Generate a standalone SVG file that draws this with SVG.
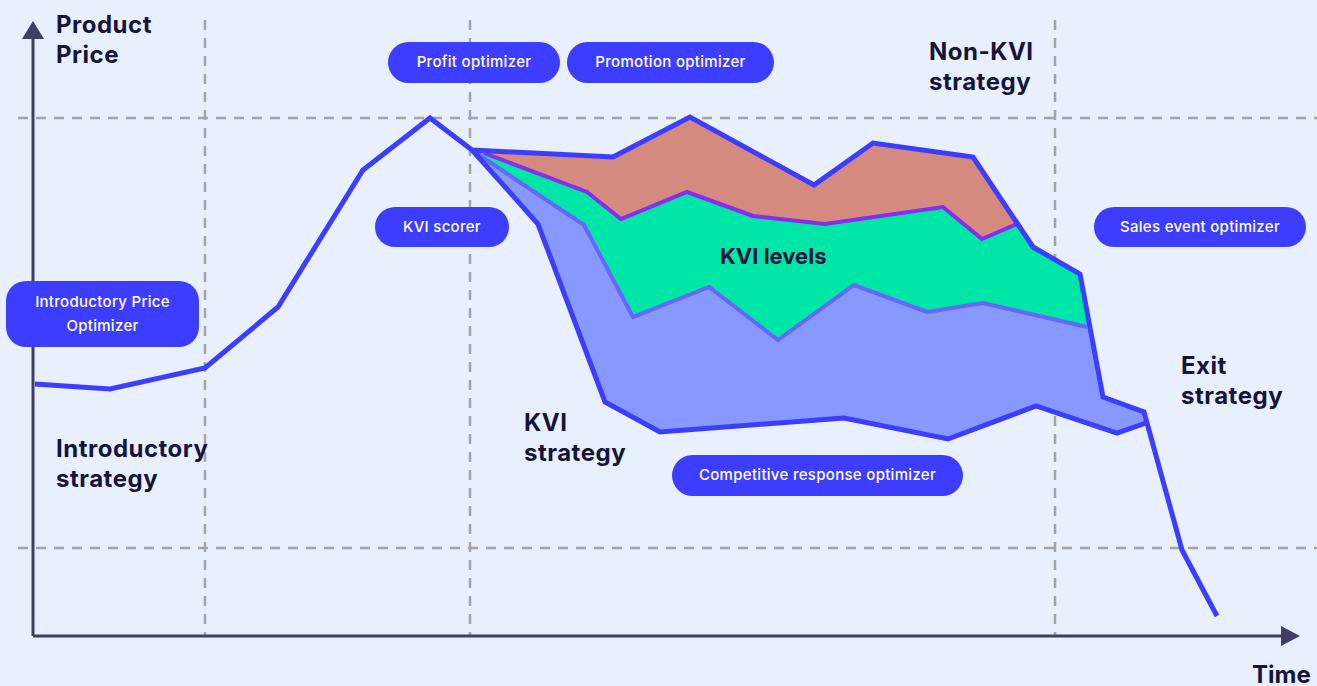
<svg xmlns="http://www.w3.org/2000/svg" width="1317" height="686" viewBox="0 0 1317 686">
<style>
.bg{fill:#E8EFFD}
.grid{stroke:#A3A3A8;stroke-width:2.5;stroke-dasharray:10 8;fill:none}
.axis{stroke:#3F3F66;stroke-width:3;fill:none}
.ah{fill:#3F3F66}
.main{stroke:#3D3DFF;stroke-width:5;fill:none;stroke-linejoin:miter;stroke-linecap:butt}
.purple{stroke:#8A2BF0;stroke-width:4;fill:none}
.lblue{stroke:#6666FF;stroke-width:4;fill:none}
.lbl{font-family:Inter,"Noto Sans",sans-serif;font-weight:700;fill:#14143C;font-size:24px;letter-spacing:0.5px}
.pill{fill:#3D3DFF}
.pt{font-family:Inter,"Noto Sans",sans-serif;font-weight:500;fill:#FFFFFF;font-size:15px;letter-spacing:0.3px;text-anchor:middle}
</style>
<rect class="bg" x="0" y="0" width="1317" height="686"/>
<g id="grid">
<line class="grid" x1="18" y1="118" x2="1317" y2="118"/>
<line class="grid" x1="18" y1="548" x2="1317" y2="548"/>
<line class="grid" x1="205" y1="20" x2="205" y2="636"/>
<line class="grid" x1="470" y1="20" x2="470" y2="636"/>
<line class="grid" x1="1055" y1="20" x2="1055" y2="636"/>
</g>
<g id="areas">
<polygon fill="#8799FE" points="472,150 613,157 690,117 814,185 873,143 973,157 1017,223 1033,247 1080,274 1103,397 1144,412 1146,423 1117,433 1036,406 948,439 844,418 660,432 605,402 538,224"/>
<polygon fill="#00E6A6" points="476,152 587,192 621,219 687,192 753,216 825,224 943,207 982,239 1017,224 1033,247 1080,274 1087,327 983,303 927,312 854,285 778,340 709,287 633,317 584,225"/>
<polygon fill="#D58A80" points="472,150 613,157 690,117 814,185 873,143 973,157 1017,223 982,239 943,207 825,224 753,216 687,192 621,219 587,192 484,153"/>
</g>
<g id="connectors">
<polyline class="lblue" points="476,153 584,225 633,317 709,287 778,340 854,285 927,312 983,303 1087,327"/>
<polyline class="purple" points="484,153 587,192 621,219 687,192 753,216 825,224 943,207 982,239 1017,224"/>
<polyline class="main" points="35,384 110,389 205,368 278,307 363,170 430,118 472,150 613,157 690,117 814,185 873,143 973,157 1017,223 1033,247 1080,274 1103,397 1144,412 1182,550 1217,616"/>
<polyline class="main" points="472,150 538,224 605,402 660,432 844,418 948,439 1036,406 1117,433 1146,423"/>
<line class="axis" x1="33" y1="636" x2="33" y2="38"/>
<line class="axis" x1="33" y1="636" x2="1283" y2="636"/>
<polygon class="ah" points="33,21 22,39 44,39"/>
<polygon class="ah" points="1300,636 1281,626 1281,646"/>
</g>
<g id="labels">
<text class="lbl" x="56" y="33">Product</text>
<text class="lbl" x="56" y="63">Price</text>
<text class="lbl" x="929" y="60">Non-KVI</text>
<text class="lbl" x="929" y="90">strategy</text>
<text class="lbl" x="720" y="264" style="font-size:22px;letter-spacing:0">KVI levels</text>
<text class="lbl" x="524" y="431">KVI</text>
<text class="lbl" x="524" y="461">strategy</text>
<text class="lbl" x="56" y="457">Introductory</text>
<text class="lbl" x="56" y="487">strategy</text>
<text class="lbl" x="1181" y="374">Exit</text>
<text class="lbl" x="1181" y="404">strategy</text>
<text class="lbl" x="1252" y="683" style="letter-spacing:0">Time</text>
</g>
<g id="profit-optimizer"><rect class="pill" x="388" y="42" width="172" height="41" rx="20.5"/><text class="pt" x="474" y="67">Profit optimizer</text></g>
<g id="promotion-optimizer"><rect class="pill" x="567" y="42" width="207" height="41" rx="20.5"/><text class="pt" x="670.5" y="67">Promotion optimizer</text></g>
<g id="kvi-scorer"><rect class="pill" x="375" y="207" width="134" height="40" rx="20"/><text class="pt" x="442" y="232">KVI scorer</text></g>
<g id="sales-event-optimizer"><rect class="pill" x="1094" y="207" width="212" height="40" rx="20"/><text class="pt" x="1200" y="232">Sales event optimizer</text></g>
<g id="intro-price-optimizer"><rect class="pill" x="6" y="281" width="193" height="66" rx="20"/><text class="pt" x="102.5" y="307">Introductory Price</text><text class="pt" x="102.5" y="331">Optimizer</text></g>
<g id="competitive-response-optimizer"><rect class="pill" x="672" y="455" width="291" height="41" rx="20.5"/><text class="pt" x="817.5" y="480">Competitive response optimizer</text></g>
</svg>
